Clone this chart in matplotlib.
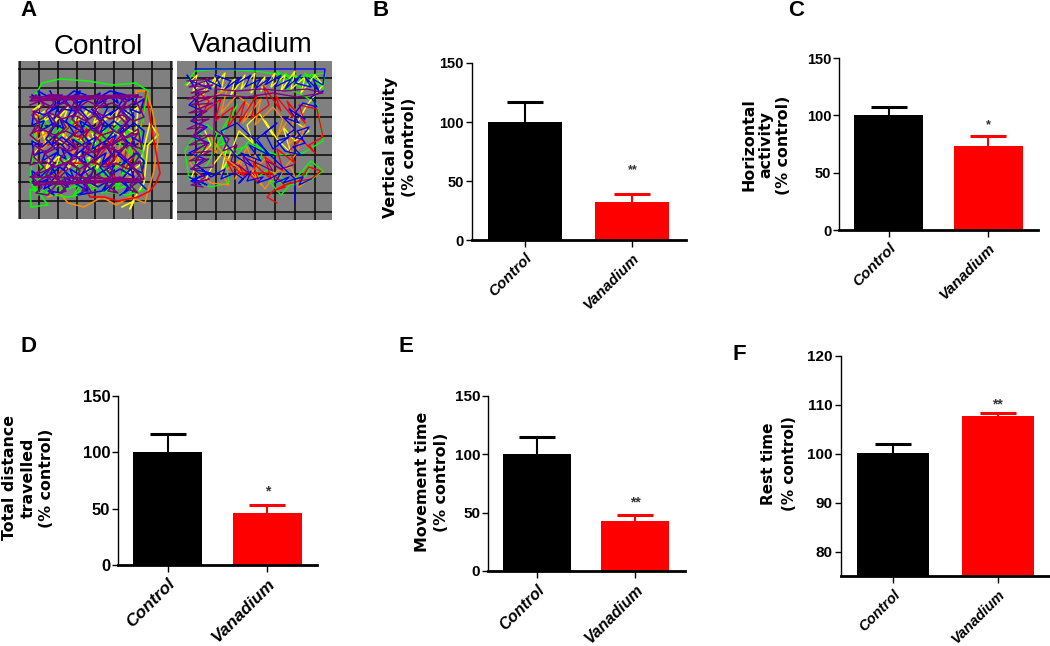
import matplotlib
matplotlib.use('Agg')
import matplotlib.pyplot as plt

W = 1050
H = 646

groups = ['Control', 'Vanadium']

# bar heights and upper error ends
vertical_means = [100, 32]
vertical_tops = [117, 39]
horizontal_means = [100, 73]
horizontal_tops = [107, 82]
distance_means = [100, 46]
distance_tops = [116, 53]
movement_means = [100, 43]
movement_tops = [115, 48]
rest_means = [100.2, 107.7]
rest_tops = [102, 108.3]

# open field traces, panel pixels
ctrl_yellow_x = [14,22,18,30,26,40,36,50,46,60,56,70,66,80,76,90,86,100,96,110,106,120,118,104,108,94,98,84,88,74,78,64,68,54,58,44,48,34,38,24,28,16,20,32,28,42,38,52,48,62,58,72,68,82,78,92,88,102,98,112,108,122,132,140,130,126,116,112,116,104]
ctrl_yellow_y = [50,44,56,48,60,52,62,46,58,50,64,48,58,46,62,52,60,48,64,50,58,46,72,66,78,70,82,68,80,72,84,70,82,74,86,72,84,76,88,70,82,92,102,96,108,94,106,98,110,92,104,96,112,98,108,94,110,96,106,98,114,104,62,74,84,122,138,148,140,146]
ctrl_orange_x = [12,20,16,30,24,38,50,44,60,54,70,84,78,94,88,104,98,114,108,125,118,128,134,140,136,130,127,112,98,84,66,50,42,30,34,48,62,76,90,104,118]
ctrl_orange_y = [74,66,82,70,88,76,62,90,68,94,74,60,92,66,98,72,104,76,110,60,30,30,48,78,110,130,142,136,144,136,146,142,132,136,118,124,112,126,114,122,112]
ctrl_red_x = [14,26,20,36,30,46,60,54,70,64,84,78,96,90,110,104,120,128,134,142,138,132,120,100,86,72,60,74,88,102,116,50,38,24]
ctrl_red_y = [50,60,72,62,84,70,60,88,66,94,72,100,76,106,80,112,90,30,70,112,122,130,136,140,136,136,112,122,108,120,104,102,116,106]
ctrl_green_x = [14,24,42,70,95,118,130,122,126,120,128,110,84,50,22,12,13,30,12,18,28,22,36,30,46,40,56,50,68,62,78,72,90,84,102,96,114,108,122,116,104,110,92,98,80,86,68,74,56,62,44,50,32,38,20,26,14,20,34,28,48,42,62,56,76,70,90,84,104,98,118,112]
ctrl_green_y = [40,22,18,20,24,22,30,70,100,120,128,134,130,136,132,128,146,144,120,60,70,56,68,82,62,76,58,72,86,60,74,92,66,80,62,78,94,68,82,104,114,98,110,122,102,116,98,112,124,104,118,96,110,126,100,114,124,134,122,132,120,130,124,134,120,130,122,132,120,128,122,132]
ctrl_blue_x = [14,24,20,34,44,40,54,62,58,72,82,78,92,100,96,110,120,116,126,122,112,116,102,92,96,82,74,78,64,54,58,44,36,40,26,16,14,26,22,36,46,42,56,66,62,76,86,82,96,106,102,116,126,124,114,118,104,94,98,84,74,78,64,54,58,44,34,38,24,14,16,28,24,38,48,44,58,68,64,78,88,84,98,108,104,118,126,124,112,116,102,92,96,82,72,76,62,52,56,42,32,36,22,14,16,30,26,40,50,46,60,70,66,80,90,86,100,110,106,120,128]
ctrl_blue_y = [34,40,30,38,34,44,36,30,42,38,32,44,36,42,30,40,34,44,38,52,48,56,46,54,50,58,48,54,46,56,50,48,58,46,54,50,64,60,70,62,68,58,66,72,60,68,62,72,60,68,74,62,70,82,76,86,78,84,74,82,88,76,84,78,88,76,84,74,86,80,94,90,100,92,98,88,96,102,90,98,92,102,90,98,104,92,100,112,106,116,108,114,104,112,118,106,114,108,118,106,114,104,116,110,124,118,128,120,126,116,124,130,118,126,120,130,118,126,132,120,128]
ctrl_blue2_x = [32,38,30,36,28,40,32,38,30,36,30,44,52,46,54,44,56,48,54,46,56,68,60,70,62,72,58,68,62,70,60,84,92,82,94,86,96,84,90,82,92,108,100,112,102,110,100,114,104,112,102]
ctrl_blue2_y = [30,42,54,66,78,90,102,114,126,134,130,132,120,108,96,84,72,60,48,38,30,34,46,58,70,82,94,106,118,128,134,130,118,106,94,82,70,58,46,36,30,34,46,58,70,82,94,106,118,128,134]
ctrl_purple_x = [12,120,14,124,12,18,26,14,22,12,24,16,26,14,24,18,30,38,28,36,26,40,30,38,28,36,30,42,50,40,48,38,52,42,50,40,48,42,54,62,52,60,50,64,54,62,52,60,54,66,74,64,72,62,76,66,74,64,72,66,78,86,76,84,74,88,78,86,76,84,78,90,98,88,96,86,100,90,98,88,96,90,102,110,100,108,98,112,102,110,100,108,102,114,122,112,120,110,124,114,122,112,120,12,124,14,122,16]
ctrl_purple_y = [36,34,38,36,40,34,44,54,64,74,84,96,106,116,126,132,134,124,114,102,92,82,72,62,50,42,34,34,44,54,66,76,86,98,108,118,130,132,120,110,100,88,78,68,58,48,36,34,46,56,66,78,88,100,110,120,132,130,118,108,96,84,74,62,52,40,34,36,46,58,68,80,90,102,112,122,132,130,120,108,98,86,76,64,54,42,34,36,48,60,70,82,92,104,114,124,132,128,118,106,94,84,72,116,118,122,120,124]
ctrl_purple2_x = [12,22,34,46,58,70,82,94,106,118,126,116,104,92,80,68,56,44,32,20,14,24,36,48,60,72,84,96,108,120,124,112,100,88,76,64,52,40,28,16,12,26,38,50,62,74,86,98,110,122,126,114,102,90,78,66,54,42,30,18]
ctrl_purple2_y = [44,40,46,42,48,40,46,42,48,40,56,60,54,58,52,60,54,58,52,60,72,68,74,70,76,68,74,70,76,68,88,84,90,86,92,84,90,86,92,84,104,100,106,102,108,100,106,102,108,100,118,122,116,120,114,122,116,120,114,122]

van_yellow_x = [10,20,16,30,26,40,36,48,44,58,54,68,64,78,74,88,84,98,94,108,104,118,114,128,124,138,146,130,120,132,118,106,114,100,88,96,82,70,76,62,52,44,50,36,28,14,22,34,28]
van_yellow_y = [24,14,30,18,34,14,26,12,30,18,34,14,28,12,32,16,30,12,26,14,30,10,28,16,32,14,24,44,62,70,80,66,92,78,60,74,52,64,82,70,96,112,86,104,120,118,96,84,70]
van_orange_x = [14,26,20,36,50,44,60,72,66,84,78,96,106,100,118,112,128,120,110,100,90,74,84,70,60,48,34,40,26,12,20,34,52,44,66,58,80,74,88,100,114,122,136]
van_orange_y = [40,30,48,36,28,52,34,44,62,38,64,46,58,76,48,84,64,92,104,120,96,112,124,86,106,96,76,92,84,100,112,122,124,112,98,118,92,108,128,110,106,126,116]
van_red_x = [20,32,26,44,38,56,50,68,62,80,74,92,86,104,98,116,110,128,122,140,146,132,138,124,112,118,100,106,88,94,76,82,62,68,50,56,94,108,122,132,144,134,112,100,108,96,90,100]
van_red_y = [30,40,52,38,60,46,68,40,62,34,58,44,24,50,34,56,40,62,44,48,76,84,92,78,90,102,88,110,96,118,102,122,104,116,100,112,112,124,120,106,110,118,122,128,126,130,136,142]
van_green_x = [8,18,44,78,120,148,146,136,142,128,134,118,124,108,114,100,106,126,140,146,126,100,74,48,20,8,12,34,52,44,60,30,22,16,26,18,30,40,36,48,60,72,86,78,92,112,132,146,134,104,92,118,134,128]
van_green_y = [24,10,8,10,16,12,28,14,24,12,26,14,28,12,22,10,26,34,44,80,92,94,84,92,70,90,118,126,122,70,44,104,112,100,88,76,64,72,86,82,94,80,88,118,108,122,120,110,100,134,120,124,104,116]
van_blue_x = [18,148,146,136,142,128,134,118,124,108,114,98,104,88,94,78,84,68,74,58,64,48,54,38,44,28,34,14,10,22,12,26,14,30,16,32,12,28,14,34,18,30,12,24,14,30,20,34,48,44,58,66,62,74,70,86,80,92,104,98,112,106,118,126,122,134]
van_blue_y = [8,8,24,18,30,16,26,22,14,28,18,26,14,24,16,28,18,26,14,24,16,28,20,14,26,18,28,20,14,34,44,50,60,66,76,82,92,98,108,112,118,124,116,124,120,112,104,116,108,118,112,118,122,110,120,116,122,118,112,122,116,122,118,116,124,118]
van_blue2_x = [146,134,140,126,118,128,112,122,106,118,110,124,132,120,128,116,124,108,100,112,96,88,100,80,92,72,84,64,76,60,50,44,60,118,118]
van_blue2_y = [30,36,46,42,52,58,48,62,56,68,74,78,66,70,82,86,94,90,80,76,88,72,62,78,94,84,100,92,106,96,84,70,62,118,142]
van_purple_x = [10,34,12,36,14,32,10,34,14,36,12,30,14,32,10,28,14,34,12,30,16,34,12,32,14,36,38,60,84,108,130,146,120,96,70,44,20,26,18,30,22,16,28,20,32,14,26]
van_purple_y = [20,18,26,24,32,30,38,36,44,42,52,50,60,58,68,66,76,74,84,82,92,90,100,98,108,106,28,30,28,30,28,32,36,32,36,34,38,60,72,84,96,108,116,122,118,124,126]
van_purple2_x = [40,52,46,60,54,72,66,84,96,90,104,116]
van_purple2_y = [70,78,90,84,100,112,96,104,110,100,108,104]

ctrl_tracks = [('#ffff00', ctrl_yellow_x, ctrl_yellow_y), ('#ff8c00', ctrl_orange_x, ctrl_orange_y),
               ('#ff0000', ctrl_red_x, ctrl_red_y), ('#00ff00', ctrl_green_x, ctrl_green_y),
               ('#0000ff', ctrl_blue_x, ctrl_blue_y), ('#0000ff', ctrl_blue2_x, ctrl_blue2_y),
               ('#800080', ctrl_purple_x, ctrl_purple_y), ('#800080', ctrl_purple2_x, ctrl_purple2_y)]
van_tracks = [('#00ff00', van_green_x, van_green_y), ('#ffff00', van_yellow_x, van_yellow_y),
              ('#ff8c00', van_orange_x, van_orange_y), ('#ff0000', van_red_x, van_red_y),
              ('#0000ff', van_blue_x, van_blue_y), ('#0000ff', van_blue2_x, van_blue2_y),
              ('#800080', van_purple_x, van_purple_y), ('#800080', van_purple2_x, van_purple2_y)]


def px_axes(fig, left, top, right, bottom):
    return fig.add_axes([left / W, 1 - bottom / H, (right - left) / W, (bottom - top) / H])


def field(fig, rect, vlines, hlines, tracks, size, lw):
    ax = px_axes(fig, *rect)
    ax.set_facecolor('#808080')
    ax.set_xlim(0, size[0])
    ax.set_ylim(size[1], 0)
    ax.set_xticks([])
    ax.set_yticks([])
    for s in ax.spines.values():
        s.set_visible(False)
    for v in vlines:
        ax.axvline(v, color='#111111', lw=1.2, zorder=1)
    for h in hlines:
        ax.axhline(h, color='#111111', lw=1.2, zorder=1)
    for col, xs, ys in tracks:
        ax.plot(xs, ys, color=col, lw=lw, zorder=2)
    return ax


def bars(fig, rect, means, tops, ylim, yticks, star, star_y, tick_fs, label_fs, star_fs):
    ax = px_axes(fig, *rect)
    cols = ['black', '#ff0000']
    ax.bar([0, 1], means, width=0.69, color=cols, zorder=2)
    for i in range(2):
        # lower cap stays hidden behind the bar
        low = (ylim[1] - ylim[0]) * 0.03
        ax.errorbar(i, means[i], yerr=[[low], [tops[i] - means[i]]], color=cols[i],
                    capsize=13, capthick=2.2, elinewidth=1.5, zorder=1)
    ax.set_xlim(-0.5, 1.5)
    ax.set_ylim(*ylim)
    ax.set_yticks(yticks)
    ax.set_xticks([0, 1])
    ax.set_xticklabels(groups, rotation=45, ha='right', rotation_mode='anchor',
                       fontsize=label_fs, fontstyle='italic', fontweight='bold',
                       family='Liberation Sans')
    for t in ax.get_yticklabels():
        t.set_family('Liberation Sans')
        t.set_fontweight('bold')
        t.set_fontsize(tick_fs)
    ax.spines['top'].set_visible(False)
    ax.spines['right'].set_visible(False)
    ax.spines['left'].set_linewidth(1.0)
    ax.spines['bottom'].set_linewidth(2.0)
    ax.tick_params(axis='y', length=4, width=1.0, pad=1.5)
    ax.tick_params(axis='x', length=5, width=1.0, pad=3)
    ax.text(1, star_y, star, ha='center', va='center', fontsize=star_fs,
            fontweight='bold', color='#333333', family='Liberation Sans')
    return ax


def ylab(fig, x, y, text, ls=1.32, fs=11.4):
    fig.text(x / W, 1 - y / H, text, rotation=90, ha='center', va='center', fontsize=fs,
             fontweight='bold', family='DejaVu Sans', linespacing=ls, multialignment='center')


def letter(fig, x, y, s):
    fig.text(x / W, 1 - y / H, s, ha='left', va='center', fontsize=16, fontweight='bold',
             family='Liberation Sans')


fig = plt.figure(figsize=(W / 100, H / 100), dpi=100)

# panel A
field(fig, (18, 61, 173, 219), [2, 21, 40, 59, 77, 96, 115, 134, 153],
      [8, 27, 46, 65, 83, 102, 121, 140], ctrl_tracks, (155, 158), 1.15)
field(fig, (177, 61, 332, 220), [19, 39, 58, 78, 98, 118, 138],
      [17, 37, 56, 75, 94, 113, 132, 151], van_tracks, (155, 159), 0.95)
fig.text(98 / W, 1 - 47 / H, 'Control', ha='center', va='center', fontsize=20, family='Liberation Sans')
fig.text(251 / W, 1 - 45 / H, 'Vanadium', ha='center', va='center', fontsize=20, family='Liberation Sans')

bars(fig, (471.5, 63, 686, 240), vertical_means, vertical_tops, (0, 150), [0, 50, 100, 150], '**', 59, 10.5, 11, 9)
bars(fig, (839, 58, 1038, 230), horizontal_means, horizontal_tops, (0, 150), [0, 50, 100, 150], '*', 91, 10.5, 11, 9)
bars(fig, (118, 396, 317, 565), distance_means, distance_tops, (0, 150), [0, 50, 100, 150], '*', 65, 12, 12.5, 10)
bars(fig, (488, 396, 684.5, 571), movement_means, movement_tops, (0, 150), [0, 50, 100, 150], '**', 59, 11, 11.5, 10)
bars(fig, (840.6, 356, 1050, 576), rest_means, rest_tops, (75, 120), [80, 90, 100, 110, 120], '**', 110, 11, 10.5, 10)

ylab(fig, 400, 147, 'Vertical activity\n(% control)')
ylab(fig, 766, 145, 'Horizontal\nactivity\n(% control)', ls=1.2)
ylab(fig, 28, 478, 'Total distance\ntravelled\n(% control)')
ylab(fig, 432, 482, 'Movement time\n(% control)')
ylab(fig, 779, 464, 'Rest time\n(% control)', ls=1.55, fs=11)

letter(fig, 20, 11, 'A')
letter(fig, 373, 10, 'B')
letter(fig, 788, 10, 'C')
letter(fig, 20, 346, 'D')
letter(fig, 398, 347, 'E')
letter(fig, 733, 354, 'F')

fig.savefig('out.png', dpi=100)
